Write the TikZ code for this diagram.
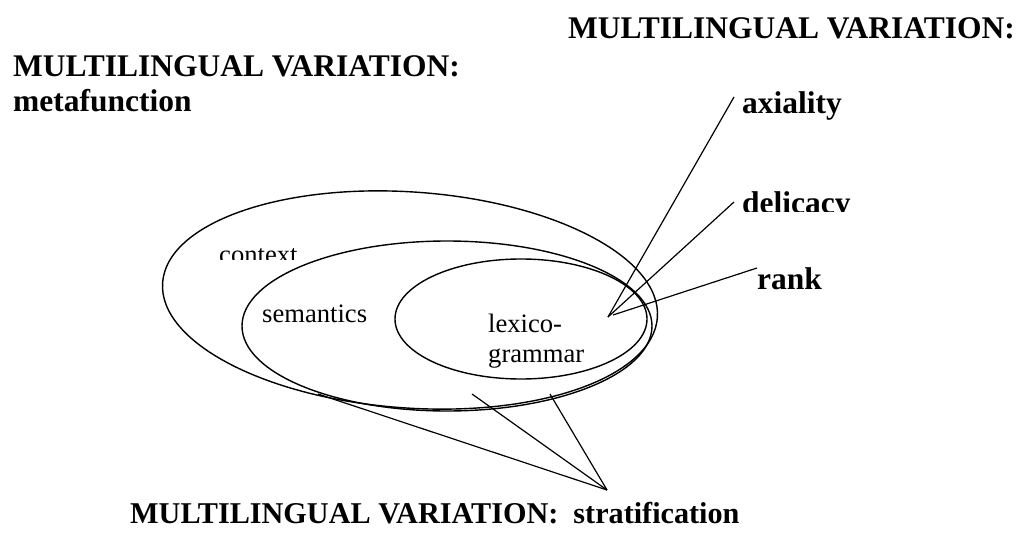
\documentclass[tikz,border=0pt]{standalone}
\usepackage{fontspec}
\setmainfont{Liberation Serif}
\begin{document}
\begin{tikzpicture}[x=1pt,y=1pt,
  title/.style={font=\fontsize{31.5}{35}\selectfont\bfseries, inner sep=0pt, anchor=base west},
  stratum/.style={font=\fontsize{26.6}{30}\selectfont, inner sep=0pt, anchor=base west},
  stroke/.style={line width=1.4pt},
  pointer/.style={line width=1.2pt}]
\useasboundingbox (0,0) rectangle (1031,-540);

% the three strata
\draw[stroke, rotate around={-4:(410,-300)}] (410,-300) ellipse [x radius=248, y radius=108];
\draw[stroke] (447,-326) ellipse [x radius=205, y radius=85];
\draw[stroke] (521,-319) ellipse [x radius=126, y radius=60];

% stratum labels
\begin{scope}
  \clip (150,-200) rectangle (330,-260);
  \node[stratum] (context) at (219,-263) {context};
\end{scope}
\node[stratum] (semantics) at (262,-322) {semantics};
\node[stratum] (lexico) at (488,-332) {lexico-};
\node[stratum] (grammar) at (488,-362) {grammar};

% headings
\node[title] (topright) at (568,-39) {MULTILINGUAL VARIATION:};
\node[title] (meta1) at (13,-77) {MULTILINGUAL VARIATION:};
\node[title] (meta2) at (13,-112) {metafunction};
\node[title] (axiality) at (742,-114) {axiality};
\begin{scope}
  \clip (700,-150) rectangle (1031,-212);
  \node[title] (delicacy) at (742,-214) {delicacy};
\end{scope}
\node[title] (rank) at (757,-290) {rank};
\node[title, font=\fontsize{30.2}{34}\selectfont\bfseries] (strat) at (130,-523) {MULTILINGUAL VARIATION:\ \ stratification};

% pointers to axiality, delicacy and rank
\coordinate (apexA) at (608,-317);
\coordinate (apexR) at (613,-315);
\coordinate (axEnd) at (734,-97);
\coordinate (delEnd) at (734,-202);
\coordinate (rankEnd) at (757,-268);
\draw[pointer] (apexA) -- (axEnd);
\draw[pointer] (apexA) -- (delEnd);
\draw[pointer] (apexR) -- (rankEnd);

% pointers to stratification
\coordinate (apexS) at (607,-490);
\coordinate (s1) at (318,-394);
\coordinate (s2) at (472,-394);
\coordinate (s3) at (550,-394);
\draw[pointer] (apexS) -- (s1);
\draw[pointer] (apexS) -- (s2);
\draw[pointer] (apexS) -- (s3);
\end{tikzpicture}
\end{document}
